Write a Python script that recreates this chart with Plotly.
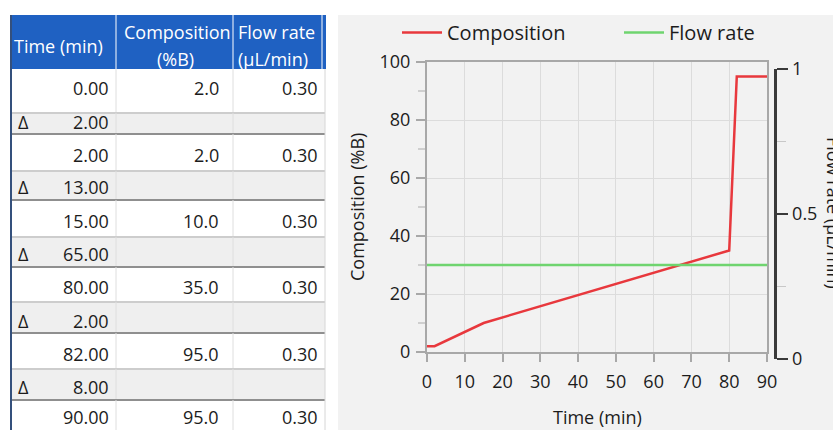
import plotly.graph_objects as go

# ---------------- data ----------------
time_min = [0.00, 2.00, 15.00, 80.00, 82.00, 90.00]
composition_pct_b = [2.0, 2.0, 10.0, 35.0, 95.0, 95.0]
flow_rate_ul_min = [0.30, 0.30, 0.30, 0.30, 0.30, 0.30]
delta_min = [2.00, 13.00, 65.00, 2.00, 8.00]

header_time = ["Time (min)"]
header_comp = ["Composition", "(%B)"]
header_flow = ["Flow rate", "(µL/min)"]

x_title = "Time (min)"
y_title = "Composition (%B)"
y2_title = "Flow rate (µL/min)"
flow_tick_vals = [0, 0.5, 1]
flow_tick_text = ["0", "0.5", "1"]

# ---------------- layout constants ----------------
W, H = 833, 430
FONT = "Open Sans"
TXT = "#1c1c1c"
RED = "#e8383d"
GREEN = "#6fd46f"
BLUE = "#1f61c2"


def fx(p):
    return p / W


def fy(p):
    return 1 - p / H


row_edges = [69, 113, 134, 171, 200, 237, 267, 302, 333, 369, 400, 436]
row_text_y = [88, 122, 155, 187, 221, 254, 287, 321, 354, 387, 417]
col_edges = [11, 116, 233, 325]
num_right = [110, 220, 319]

shapes = []
annotations = []


def rect(x0, y0, x1, y1, fill, layer="below"):
    shapes.append(dict(type="rect", xref="paper", yref="paper",
                       x0=fx(x0), x1=fx(x1), y0=fy(y1), y1=fy(y0),
                       fillcolor=fill, line=dict(width=0), layer=layer))


def line(x0, y0, x1, y1, color, width, layer="below"):
    shapes.append(dict(type="line", xref="paper", yref="paper",
                       x0=fx(x0), x1=fx(x1), y0=fy(y0), y1=fy(y1),
                       line=dict(color=color, width=width), layer=layer))


def text(x, y, s, anchor="right", size=18, color=TXT, angle=0):
    annotations.append(dict(xref="paper", yref="paper", x=fx(x), y=fy(y),
                            text=s, showarrow=False, xanchor=anchor,
                            yanchor="middle", textangle=angle, borderpad=0,
                            font=dict(family=FONT, size=size, color=color)))


# chart panel background
rect(338, 15, W + 2, H + 5, "#f2f2f2")

# table header
rect(col_edges[0], 15, col_edges[-1] + 1, row_edges[0], BLUE)
for xs in (col_edges[1], col_edges[2], 322):
    line(xs, 15, xs, row_edges[0], "#ffffff", 1)
text(13, 46, header_time[0], anchor="left", color="#ffffff")
cx = (col_edges[1] + col_edges[2]) / 2
text(cx + 3, 32, header_comp[0], anchor="center", color="#ffffff")
text(cx + 1, 59, header_comp[1], anchor="center", color="#ffffff")
text(237, 32, header_flow[0], anchor="left", color="#ffffff")
text(237, 59, header_flow[1], anchor="left", color="#ffffff")

# table body: interleave data rows and delta rows
rows = []
for i in range(len(time_min)):
    rows.append(("data", i))
    if i < len(delta_min):
        rows.append(("delta", i))

for r, (kind, i) in enumerate(rows):
    top, bot = row_edges[r], row_edges[r + 1]
    rect(col_edges[0], top, col_edges[-1], bot, "#ffffff" if kind == "data" else "#efefef")
for r, (kind, i) in enumerate(rows):
    top, bot = row_edges[r], row_edges[r + 1]
    cy = row_text_y[r]
    for xs in (col_edges[1], col_edges[2]):
        line(xs, top, xs, bot, "#dedede", 1)
    if kind == "data":
        text(num_right[0], cy, f"{time_min[i]:.2f}")
        text(num_right[1], cy, f"{composition_pct_b[i]:.1f}")
        text(num_right[2], cy, f"{flow_rate_ul_min[i]:.2f}")
        line(col_edges[0], bot, col_edges[-1], bot, "#cdcdcd", 2)
    else:
        text(17, cy, "Δ", anchor="left")
        text(num_right[0], cy, f"{delta_min[i]:.2f}")
        line(col_edges[0], bot, col_edges[-1], bot, "#8f8f8f", 2)
line(col_edges[-1], row_edges[0], col_edges[-1], H, "#d6d6d6", 1)
line(col_edges[0], 15, col_edges[0], H + 2, "#34507c", 2)

# axis titles
text(597, 417, x_title, anchor="center")
text(357, 207, y_title, anchor="center", angle=-90)
text(834, 213, y2_title, anchor="center", angle=90)

# ---------------- traces ----------------
fig = go.Figure()
fig.add_trace(go.Scatter(x=time_min, y=composition_pct_b, mode="lines",
                         name="Composition", line=dict(color=RED, width=2.5),
                         xaxis="x", yaxis="y"))
fig.add_trace(go.Scatter(x=time_min, y=flow_rate_ul_min, mode="lines",
                         name="Flow rate", line=dict(color=GREEN, width=2.5),
                         xaxis="x", yaxis="y2"))
# carrier for the detached flow-rate axis bracket
fig.add_trace(go.Scatter(x=[time_min[0]], y=[flow_rate_ul_min[0]], mode="markers",
                         marker=dict(opacity=0), showlegend=False, hoverinfo="skip",
                         xaxis="x2", yaxis="y3"))

tickfont = dict(family=FONT, size=18, color=TXT)
fig.update_layout(
    width=W, height=H,
    margin=dict(l=0, r=0, t=0, b=0, pad=0, autoexpand=False),
    paper_bgcolor="#ffffff",
    plot_bgcolor="rgba(0,0,0,0)",
    font=dict(family=FONT, size=18, color=TXT),
    shapes=shapes,
    annotations=annotations,
    showlegend=True,
    legend=dict(orientation="h", x=fx(397), y=fy(13), xanchor="left", yanchor="top",
                font=dict(family=FONT, size=20, color=TXT), itemwidth=40,
                entrywidth=167, bgcolor="rgba(0,0,0,0)"),
    xaxis=dict(domain=[fx(427), fx(767)], range=[0, 90], dtick=10, tick0=0,
               showline=True, linecolor="#a8a8a8", linewidth=2, mirror=True,
               ticks="outside", ticklen=8, tickwidth=2, tickcolor="#a8a8a8",
               showgrid=True, gridcolor="#dcdcdc", gridwidth=1, zeroline=False,
               tickfont=tickfont, ticklabelstandoff=4, anchor="y", automargin=False),
    yaxis=dict(domain=[fy(352), fy(62)], range=[0, 100], dtick=20, tick0=0,
               showline=True, linecolor="#a8a8a8", linewidth=2, mirror=True,
               ticks="outside", ticklen=9, tickwidth=2, tickcolor="#a8a8a8",
               minor=dict(dtick=10, ticks="outside", ticklen=7, tickcolor="#cfcfcf",
                          tickwidth=2, showgrid=False),
               showgrid=True, gridcolor="#dcdcdc", gridwidth=1, zeroline=False,
               tickfont=tickfont, ticklabelstandoff=2, anchor="x", automargin=False),
    yaxis2=dict(overlaying="y", range=[0, 1], visible=False, anchor="x"),
    xaxis2=dict(domain=[fx(427), fx(767)], range=[0, 90], visible=False, anchor="y3"),
    yaxis3=dict(domain=[fy(359), fy(69)], range=[0, 1], anchor="free", position=fx(775),
                side="right", showline=True, linecolor="#3a3a3a", linewidth=2.5,
                ticks="outside", ticklen=11, tickwidth=2.5, tickcolor="#3a3a3a",
                tickvals=flow_tick_vals, ticktext=flow_tick_text,
                minor=dict(tickvals=[0.25, 0.75], ticks="outside", ticklen=9,
                           tickcolor="#c8c8c8", tickwidth=1.5, showgrid=False),
                showgrid=False, zeroline=False, tickfont=tickfont,
                ticklabelstandoff=1, automargin=False),
)

fig.write_html("out.html",
               config={"displayModeBar": False, "staticPlot": True},
               post_script="document.body.style.margin='0px';"
                           "document.body.style.overflow='hidden';")
